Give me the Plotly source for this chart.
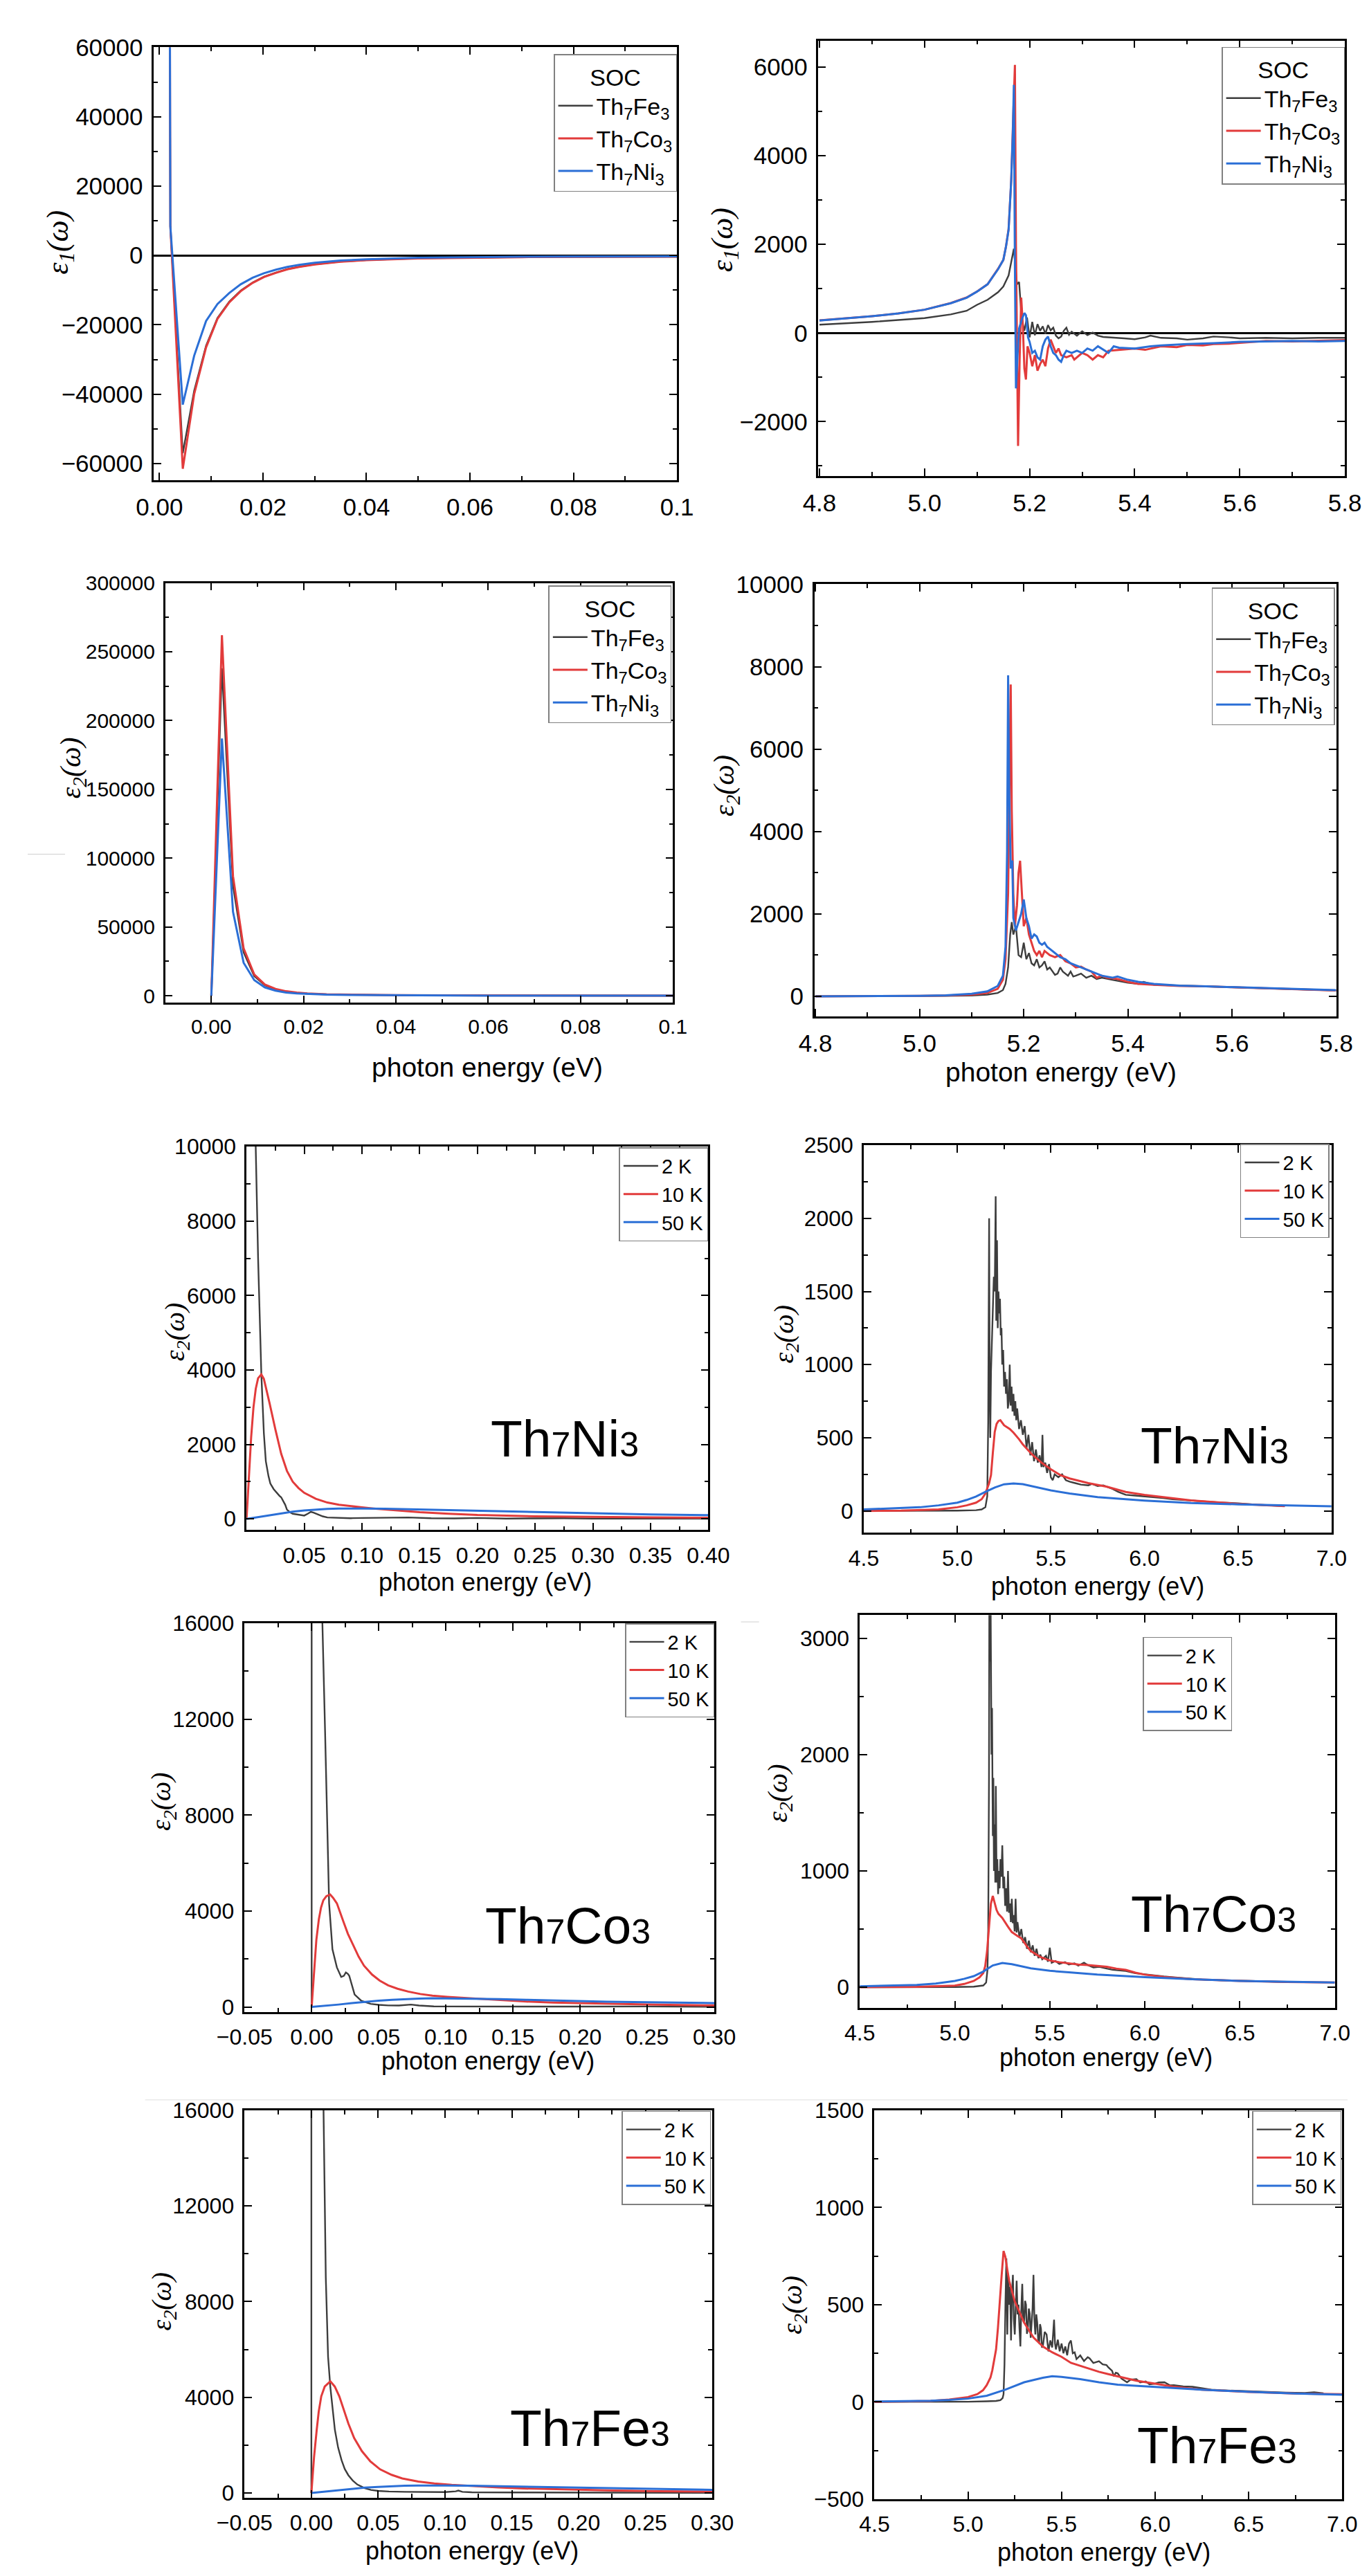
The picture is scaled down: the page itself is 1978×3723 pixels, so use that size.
import plotly.graph_objects as go

W, H = 1978, 3723
GRAY, RED, BLUE = "#3d3d3d", "#e23b3b", "#2b6fd6"
SANS = "Liberation Sans, Arial, sans-serif"
SERIF = "Liberation Serif, Times New Roman, serif"

# ---------------- data (x, y) ----------------
# Panel A : eps1, low energy, SOC
a_fe = [(0.0018, 200000), (0.0021, 8400), (0.0045, -57000), (0.0067, -39000), (0.0090, -26000),
        (0.0112, -18000), (0.0135, -13300), (0.0157, -10100), (0.0180, -7800), (0.0202, -6100),
        (0.0225, -4900), (0.0247, -3950), (0.0270, -3250), (0.030, -2550), (0.035, -1780),
        (0.040, -1330), (0.050, -830), (0.060, -590), (0.070, -470), (0.080, -410), (0.090, -380), (0.100, -360)]
a_co = [(0.0018, 200000), (0.0021, 8400), (0.0045, -61500), (0.0067, -40000), (0.0090, -26500),
        (0.0112, -18300), (0.0135, -13500), (0.0157, -10300), (0.0180, -7900), (0.0202, -6200),
        (0.0225, -5000), (0.0247, -4000), (0.0270, -3300), (0.030, -2600), (0.035, -1800),
        (0.040, -1350), (0.050, -850), (0.060, -600), (0.070, -480), (0.080, -420), (0.090, -390), (0.100, -370)]
a_ni = [(0.0018, 200000), (0.0021, 8400), (0.0045, -43000), (0.0067, -28900), (0.0090, -18900),
        (0.0112, -14000), (0.0135, -10800), (0.0157, -8300), (0.0180, -6400), (0.0202, -5100),
        (0.0225, -4100), (0.0247, -3300), (0.0270, -2700), (0.030, -2100), (0.035, -1450),
        (0.040, -1100), (0.050, -650), (0.060, -450), (0.070, -350), (0.080, -300), (0.090, -270), (0.100, -250)]

# Panel B : eps1, high energy, SOC
b_fe = [(4.80, 187), (4.90, 250), (5.00, 337), (5.05, 420), (5.08, 500), (5.10, 637), (5.12, 750),
        (5.14, 920), (5.15, 1050), (5.16, 1300), (5.165, 1600), (5.170, 1900), (5.173, 1500), (5.176, 1100),
        (5.180, 1150), (5.185, 300), (5.190, 50), (5.195, 350), (5.200, -100), (5.205, 250), (5.210, -50),
        (5.215, 200), (5.220, 50), (5.225, 150), (5.230, -20), (5.235, 180), (5.240, 60), (5.245, 120),
        (5.250, -60), (5.255, -120), (5.260, -80), (5.265, 50), (5.270, 120), (5.275, -40), (5.280, 30),
        (5.290, -60), (5.300, 40), (5.310, -50), (5.320, 10), (5.330, -60), (5.340, -90), (5.360, -100),
        (5.380, -120), (5.400, -140), (5.420, -100), (5.430, -60), (5.450, -110), (5.480, -120),
        (5.500, -150), (5.530, -120), (5.550, -80), (5.580, -100), (5.600, -120), (5.650, -110),
        (5.700, -120), (5.750, -110), (5.800, -110)]
b_co = [(4.80, 285), (4.85, 330), (4.90, 380), (4.95, 440), (5.00, 525), (5.05, 675), (5.08, 800),
        (5.10, 937), (5.12, 1100), (5.13, 1275), (5.14, 1450), (5.15, 1650), (5.155, 1950), (5.16, 2350),
        (5.165, 3450), (5.168, 4600), (5.172, 6050), (5.174, 2000), (5.176, -1000), (5.178, -2550),
        (5.181, -600), (5.184, 800), (5.187, 200), (5.190, -800), (5.193, -1050), (5.196, -300),
        (5.200, -450), (5.205, -750), (5.210, -500), (5.215, -850), (5.220, -700), (5.225, -600),
        (5.230, -750), (5.235, -350), (5.240, -150), (5.245, -300), (5.250, -450), (5.255, -350),
        (5.260, -500), (5.270, -550), (5.280, -500), (5.285, -600), (5.290, -550), (5.300, -450),
        (5.310, -500), (5.320, -600), (5.330, -500), (5.340, -550), (5.350, -400), (5.370, -380),
        (5.400, -350), (5.420, -380), (5.450, -300), (5.480, -320), (5.500, -270), (5.530, -280),
        (5.550, -250), (5.580, -240), (5.600, -220), (5.630, -200), (5.650, -180), (5.700, -190),
        (5.750, -170), (5.800, -160)]
b_ni = [(4.80, 280), (4.85, 325), (4.90, 378), (4.95, 440), (5.00, 525), (5.05, 672), (5.08, 795),
        (5.10, 935), (5.12, 1100), (5.13, 1270), (5.14, 1440), (5.15, 1650), (5.155, 1950), (5.16, 2330),
        (5.165, 3450), (5.168, 4500), (5.170, 5600), (5.172, 1500), (5.174, -1250), (5.177, -500),
        (5.180, 100), (5.185, 300), (5.190, 450), (5.193, 400), (5.197, -100), (5.200, -200),
        (5.205, -450), (5.210, -400), (5.215, -550), (5.220, -600), (5.225, -300), (5.230, -150),
        (5.235, -80), (5.240, -300), (5.245, -450), (5.250, -500), (5.255, -600), (5.260, -650),
        (5.265, -500), (5.270, -400), (5.280, -450), (5.290, -400), (5.300, -450), (5.310, -350),
        (5.320, -400), (5.330, -300), (5.340, -380), (5.350, -450), (5.360, -300), (5.370, -330),
        (5.400, -350), (5.430, -300), (5.450, -280), (5.480, -260), (5.500, -250), (5.550, -230),
        (5.600, -200), (5.650, -190), (5.700, -180), (5.750, -190), (5.800, -180)]

# Panel C : eps2, low energy, SOC
c_fe = [(0.0, 0), (0.0023, 238000), (0.0047, 80000), (0.0070, 31500), (0.0093, 14300), (0.0116, 7600),
        (0.0139, 4600), (0.0162, 3000), (0.0185, 2100), (0.0208, 1550), (0.025, 1000), (0.030, 680),
        (0.040, 380), (0.050, 250), (0.060, 170), (0.080, 100), (0.100, 65)]
c_co = [(0.0, 0), (0.0023, 262000), (0.0047, 87000), (0.0070, 34500), (0.0093, 15500), (0.0116, 8200),
        (0.0139, 5000), (0.0162, 3300), (0.0185, 2300), (0.0208, 1700), (0.025, 1100), (0.030, 750),
        (0.040, 420), (0.050, 270), (0.060, 190), (0.080, 110), (0.100, 70)]
c_ni = [(0.0, 0), (0.0023, 187000), (0.0047, 61000), (0.0070, 24000), (0.0093, 11400), (0.0116, 6100),
        (0.0139, 3700), (0.0162, 2400), (0.0185, 1700), (0.0208, 1250), (0.025, 800), (0.030, 550),
        (0.040, 310), (0.050, 200), (0.060, 140), (0.080, 80), (0.100, 50)]

# Panel D : eps2, high energy, SOC
d_fe = [(4.80, 0), (4.90, 0), (5.00, 5), (5.05, 10), (5.10, 20), (5.13, 40), (5.15, 80), (5.16, 150),
        (5.165, 300), (5.170, 700), (5.174, 1500), (5.177, 1800), (5.180, 1500), (5.185, 1700),
        (5.190, 1000), (5.195, 950), (5.200, 1300), (5.205, 900), (5.210, 1050), (5.215, 800),
        (5.220, 750), (5.225, 900), (5.230, 700), (5.235, 750), (5.240, 850), (5.245, 650), (5.250, 700),
        (5.255, 600), (5.260, 520), (5.265, 550), (5.270, 700), (5.275, 600), (5.280, 550), (5.285, 500),
        (5.290, 600), (5.295, 480), (5.300, 500), (5.310, 550), (5.320, 450), (5.330, 500), (5.340, 420),
        (5.350, 450), (5.370, 400), (5.400, 330), (5.420, 300), (5.430, 350), (5.450, 280), (5.500, 260),
        (5.550, 240), (5.600, 220), (5.650, 200), (5.700, 180), (5.750, 160), (5.800, 140)]
d_co = [(4.80, 0), (4.90, 0), (5.00, 10), (5.05, 20), (5.10, 40), (5.13, 80), (5.15, 180), (5.16, 400),
        (5.165, 900), (5.170, 2500), (5.173, 6000), (5.175, 7570), (5.177, 4500), (5.180, 2500),
        (5.183, 1700), (5.187, 2200), (5.190, 3000), (5.193, 3290), (5.196, 2600), (5.200, 1700),
        (5.205, 1900), (5.210, 1500), (5.215, 1300), (5.220, 1100), (5.225, 1000), (5.230, 1100),
        (5.235, 950), (5.240, 1100), (5.245, 1050), (5.250, 1000), (5.260, 950), (5.270, 1000),
        (5.280, 850), (5.290, 800), (5.300, 700), (5.310, 720), (5.320, 650), (5.330, 600), (5.340, 450),
        (5.350, 500), (5.360, 450), (5.380, 420), (5.400, 350), (5.420, 300), (5.450, 280), (5.480, 260),
        (5.500, 250), (5.550, 240), (5.600, 220), (5.650, 200), (5.700, 180), (5.750, 160), (5.800, 140)]
d_ni = [(4.80, 0), (4.90, 0), (5.00, 10), (5.05, 25), (5.10, 60), (5.13, 120), (5.15, 250), (5.16, 500),
        (5.165, 1200), (5.168, 3500), (5.170, 7790), (5.172, 5000), (5.175, 3100), (5.178, 3300),
        (5.180, 1900), (5.185, 1600), (5.190, 1800), (5.195, 2000), (5.200, 2350), (5.205, 1900),
        (5.210, 1700), (5.215, 1400), (5.220, 1500), (5.225, 1450), (5.230, 1300), (5.235, 1250),
        (5.240, 1300), (5.245, 1200), (5.250, 1150), (5.260, 1050), (5.270, 950), (5.280, 900),
        (5.290, 800), (5.300, 750), (5.310, 700), (5.320, 650), (5.330, 600), (5.350, 500), (5.370, 450),
        (5.380, 480), (5.400, 400), (5.420, 350), (5.450, 300), (5.480, 280), (5.500, 260), (5.550, 240),
        (5.600, 220), (5.650, 200), (5.700, 180), (5.750, 165), (5.800, 150)]

# Panel E : Th7Ni3, eps2, low energy
e_2k = [(0.005, 30000), (0.0078, 10200), (0.0100, 7000), (0.0128, 3900), (0.0150, 2300), (0.0167, 1550),
        (0.0190, 1150), (0.0206, 950), (0.0235, 800), (0.0260, 700), (0.0285, 620), (0.0300, 580),
        (0.0320, 480), (0.0335, 380), (0.0350, 250), (0.0380, 170), (0.0400, 140), (0.0450, 120),
        (0.0480, 95), (0.0500, 90), (0.0530, 140), (0.0557, 190), (0.0580, 170), (0.0620, 120),
        (0.0660, 70), (0.0700, 40), (0.0800, 25), (0.0900, 20), (0.1000, 25), (0.1200, 35), (0.1400, 40),
        (0.1600, 20), (0.1800, 15), (0.2000, 25), (0.2250, 10), (0.2500, 15), (0.2750, 20), (0.3000, 10),
        (0.3500, 10), (0.4000, 10)]
e_10k = [(0.0, 0), (0.001, 600), (0.002, 1050), (0.004, 2200), (0.006, 3000), (0.008, 3500), (0.010, 3780),
         (0.0128, 3880), (0.015, 3760), (0.0175, 3450), (0.020, 3100), (0.025, 2400), (0.030, 1750),
         (0.035, 1290), (0.040, 1000), (0.045, 830), (0.050, 700), (0.060, 540), (0.070, 440),
         (0.080, 380), (0.090, 340), (0.100, 310), (0.110, 280), (0.130, 230), (0.150, 180), (0.175, 140),
         (0.200, 105), (0.250, 70), (0.300, 50), (0.350, 40), (0.400, 32)]
e_50k = [(0.0, 0), (0.01, 50), (0.02, 105), (0.03, 155), (0.04, 195), (0.05, 228), (0.06, 252),
         (0.07, 268), (0.08, 278), (0.09, 282), (0.10, 280), (0.12, 272), (0.15, 252), (0.20, 212),
         (0.25, 178), (0.30, 148), (0.35, 122), (0.40, 102)]

# Panel F : Th7Ni3, eps2, high energy
f_2k = [(4.50, 0), (4.80, 0), (5.00, 2), (5.10, 5), (5.13, 10), (5.15, 25), (5.16, 100), (5.165, 600),
        (5.170, 2000), (5.173, 800), (5.176, 500), (5.180, 950), (5.185, 1150), (5.190, 1350),
        (5.195, 1600), (5.200, 1500), (5.205, 2150), (5.208, 1300), (5.212, 1850), (5.216, 1250),
        (5.220, 1500), (5.224, 1350), (5.228, 1450), (5.232, 1200), (5.236, 1250), (5.240, 1000),
        (5.245, 1100), (5.250, 850), (5.255, 950), (5.260, 800), (5.265, 900), (5.270, 700), (5.275, 750),
        (5.280, 1000), (5.285, 720), (5.290, 850), (5.295, 680), (5.300, 800), (5.305, 650), (5.310, 750),
        (5.315, 620), (5.320, 700), (5.330, 560), (5.340, 620), (5.350, 520), (5.360, 580), (5.370, 430),
        (5.380, 520), (5.390, 380), (5.400, 470), (5.410, 340), (5.420, 420), (5.430, 330), (5.440, 380),
        (5.450, 300), (5.455, 520), (5.460, 300), (5.470, 330), (5.480, 260), (5.490, 320), (5.500, 230),
        (5.510, 210), (5.520, 250), (5.540, 230), (5.560, 250), (5.580, 210), (5.600, 200), (5.630, 190),
        (5.660, 180), (5.700, 175), (5.720, 185), (5.750, 170), (5.780, 175), (5.800, 165), (5.830, 150),
        (5.860, 130), (5.900, 110), (5.950, 105), (6.000, 100), (6.050, 95), (6.100, 88), (6.150, 80),
        (6.200, 75), (6.250, 72), (6.300, 68), (6.400, 58), (6.500, 52), (6.600, 42), (6.700, 36), (6.750, 33)]
f_10k = [(4.50, 0), (4.70, 2), (4.90, 10), (5.00, 25), (5.05, 38), (5.10, 56), (5.13, 80), (5.15, 119),
         (5.17, 190), (5.18, 245), (5.19, 400), (5.20, 540), (5.21, 595), (5.22, 615), (5.23, 620),
         (5.24, 605), (5.25, 585), (5.28, 560), (5.30, 535), (5.33, 490), (5.35, 455), (5.40, 385),
         (5.45, 330), (5.50, 285), (5.55, 245), (5.60, 222), (5.70, 190), (5.80, 165), (5.90, 130),
         (6.00, 110), (6.10, 95), (6.25, 72), (6.50, 48), (6.75, 33)]
f_50k = [(4.50, 10), (4.70, 18), (4.80, 25), (4.90, 38), (5.00, 56), (5.05, 75), (5.10, 98), (5.15, 130),
         (5.20, 160), (5.25, 182), (5.30, 188), (5.35, 183), (5.40, 168), (5.50, 140), (5.60, 119),
         (5.75, 94), (6.00, 71), (6.25, 54), (6.50, 45), (6.75, 37), (7.00, 31)]

# Panel G : Th7Co3, eps2, low energy
g_2k = [(0.0, 0), (0.0, 60000), (0.004, 40000), (0.008, 16000), (0.0100, 11500), (0.0114, 8250),
        (0.0130, 4320), (0.0155, 2400), (0.0188, 1650), (0.0220, 1250), (0.0240, 1300), (0.0255, 1440),
        (0.0270, 1380), (0.0280, 1300), (0.0300, 900), (0.0320, 520), (0.0370, 260), (0.0440, 130),
        (0.0500, 90), (0.0570, 65), (0.0650, 60), (0.0700, 80), (0.0740, 100), (0.0800, 60), (0.0910, 25),
        (0.1000, 20), (0.1200, 15), (0.1500, 20), (0.2000, 15), (0.2500, 20), (0.3000, 10)]
g_10k = [(0.0, 0), (0.002, 1700), (0.0035, 2800), (0.0054, 3670), (0.0070, 4150), (0.0087, 4450),
         (0.0110, 4620), (0.0138, 4690), (0.0160, 4550), (0.0188, 4320), (0.0210, 3950), (0.0238, 3535),
         (0.0270, 3050), (0.0305, 2620), (0.0350, 2100), (0.0390, 1720), (0.0450, 1350), (0.0507, 1100),
         (0.0570, 900), (0.0640, 760), (0.0720, 640), (0.0810, 540), (0.0900, 470), (0.1010, 420),
         (0.1120, 380), (0.1240, 340), (0.1400, 280), (0.1580, 230), (0.1800, 185), (0.2000, 155),
         (0.2250, 120), (0.2500, 100), (0.2750, 80), (0.3000, 65)]
g_50k = [(0.0, 0), (0.01, 45), (0.02, 100), (0.03, 160), (0.04, 215), (0.05, 260), (0.06, 300),
         (0.07, 330), (0.08, 350), (0.09, 360), (0.10, 358), (0.12, 345), (0.14, 330), (0.16, 300),
         (0.19, 255), (0.22, 220), (0.25, 195), (0.30, 160)]

# Panel H : Th7Co3, eps2, high energy
h_2k = [(4.50, 0), (4.80, 0), (5.00, 2), (5.10, 5), (5.15, 15), (5.165, 40), (5.172, 150), (5.176, 500),
        (5.180, 1800), (5.182, 3600), (5.185, 2800), (5.188, 3500), (5.190, 2800), (5.193, 2000),
        (5.196, 2400), (5.200, 1300), (5.203, 1800), (5.206, 1000), (5.210, 1400), (5.213, 900),
        (5.216, 1730), (5.220, 900), (5.224, 1100), (5.228, 800), (5.232, 1000), (5.236, 850),
        (5.240, 1100), (5.245, 950), (5.250, 1220), (5.255, 850), (5.260, 950), (5.265, 700), (5.270, 850),
        (5.275, 650), (5.280, 1000), (5.285, 640), (5.290, 720), (5.295, 560), (5.300, 760), (5.305, 550),
        (5.310, 620), (5.315, 480), (5.320, 760), (5.325, 470), (5.330, 560), (5.340, 430), (5.350, 500),
        (5.360, 380), (5.370, 430), (5.380, 330), (5.390, 400), (5.400, 300), (5.410, 360), (5.420, 270),
        (5.430, 330), (5.440, 250), (5.450, 280), (5.460, 240), (5.480, 270), (5.490, 220), (5.500, 340),
        (5.510, 210), (5.530, 225), (5.550, 200), (5.580, 215), (5.600, 195), (5.630, 205), (5.650, 185),
        (5.680, 210), (5.700, 190), (5.730, 170), (5.760, 175), (5.800, 160), (5.830, 150), (5.860, 145),
        (5.900, 140), (5.950, 120), (6.000, 110), (6.050, 100), (6.100, 92), (6.150, 85), (6.200, 78),
        (6.250, 72), (6.300, 66), (6.400, 60), (6.500, 55), (6.600, 50), (6.750, 45)]
h_10k = [(4.50, 0), (4.80, 3), (5.00, 14), (5.05, 28), (5.10, 54), (5.13, 85), (5.15, 122), (5.16, 180),
         (5.17, 311), (5.18, 500), (5.19, 718), (5.20, 785), (5.21, 720), (5.22, 663), (5.23, 630),
         (5.25, 596), (5.28, 520), (5.30, 474), (5.33, 440), (5.35, 420), (5.38, 350), (5.40, 311),
         (5.45, 260), (5.50, 230), (5.55, 215), (5.60, 203), (5.65, 195), (5.70, 190), (5.75, 185),
         (5.80, 176), (5.85, 160), (5.90, 149), (5.95, 125), (6.00, 108), (6.10, 88), (6.25, 68),
         (6.50, 54), (6.75, 45), (7.00, 41)]
h_50k = [(4.50, 8), (4.70, 14), (4.80, 19), (4.90, 32), (5.00, 54), (5.05, 72), (5.10, 95), (5.15, 135),
         (5.20, 187), (5.25, 208), (5.30, 198), (5.40, 162), (5.50, 141), (5.60, 128), (5.75, 108),
         (6.00, 87), (6.25, 68), (6.50, 54), (6.75, 46), (7.00, 41)]

# Panel I : Th7Fe3, eps2, low energy
i_2k = [(0.0, 0), (0.0, 60000), (0.005, 40000), (0.0091, 16000), (0.0108, 9000), (0.0125, 5690),
        (0.0142, 4420), (0.0160, 3400), (0.0176, 2640), (0.0200, 1900), (0.0226, 1370), (0.0250, 1000),
        (0.0277, 740), (0.0310, 520), (0.0344, 355), (0.0400, 200), (0.0446, 127), (0.0500, 90),
        (0.0580, 63), (0.0700, 50), (0.0800, 45), (0.0919, 38), (0.1000, 40), (0.1080, 70), (0.1100, 100),
        (0.1130, 50), (0.1200, 30), (0.1500, 25), (0.2000, 20), (0.2500, 15), (0.3000, 10)]
i_10k = [(0.0, 0), (0.002, 1500), (0.004, 2640), (0.0055, 3400), (0.0074, 4040), (0.0100, 4450),
         (0.0142, 4670), (0.0175, 4450), (0.0209, 4040), (0.0240, 3500), (0.0277, 2900), (0.0320, 2300),
         (0.0378, 1750), (0.0440, 1330), (0.0514, 990), (0.0600, 760), (0.0680, 610), (0.0800, 480),
         (0.0920, 400), (0.1050, 340), (0.1190, 290), (0.1400, 230), (0.1590, 190), (0.1900, 140),
         (0.2270, 100), (0.2600, 75), (0.3000, 55)]
i_50k = [(0.0, 0), (0.01, 55), (0.02, 120), (0.03, 180), (0.04, 225), (0.05, 258), (0.06, 285),
         (0.07, 303), (0.08, 314), (0.09, 318), (0.10, 316), (0.12, 305), (0.15, 278), (0.20, 220),
         (0.25, 170), (0.30, 130)]

# Panel J : Th7Fe3, eps2, high energy
j_2k = [(4.50, 0), (4.80, 0), (5.00, 1), (5.10, 3), (5.15, 5), (5.173, 9), (5.185, 20), (5.190, 40),
        (5.195, 193), (5.200, 500), (5.205, 738), (5.210, 347), (5.215, 653), (5.220, 500), (5.225, 592),
        (5.230, 316), (5.235, 560), (5.240, 653), (5.245, 423), (5.250, 347), (5.255, 520), (5.260, 623),
        (5.265, 450), (5.270, 500), (5.275, 380), (5.280, 285), (5.285, 480), (5.290, 607), (5.295, 420),
        (5.300, 408), (5.305, 520), (5.310, 500), (5.315, 350), (5.320, 377), (5.325, 480), (5.330, 454),
        (5.335, 330), (5.340, 400), (5.345, 480), (5.350, 653), (5.355, 420), (5.360, 347), (5.365, 450),
        (5.370, 408), (5.375, 320), (5.380, 300), (5.385, 400), (5.390, 377), (5.395, 280), (5.400, 285),
        (5.410, 360), (5.420, 347), (5.430, 260), (5.440, 316), (5.450, 280), (5.460, 423), (5.465, 300),
        (5.470, 270), (5.480, 320), (5.490, 260), (5.500, 300), (5.510, 250), (5.520, 285), (5.530, 240),
        (5.540, 300), (5.550, 316), (5.560, 250), (5.570, 255), (5.580, 220), (5.600, 239), (5.620, 210),
        (5.640, 230), (5.650, 224), (5.670, 200), (5.700, 209), (5.720, 193), (5.740, 190), (5.750, 178),
        (5.770, 160), (5.780, 132), (5.790, 150), (5.800, 147), (5.820, 120), (5.850, 101), (5.870, 115),
        (5.900, 117), (5.920, 100), (5.950, 105), (5.970, 90), (6.000, 94), (6.020, 100), (6.050, 101),
        (6.080, 85), (6.100, 86), (6.150, 80), (6.200, 78), (6.250, 70), (6.300, 63), (6.350, 60),
        (6.400, 58), (6.500, 55), (6.600, 50), (6.700, 48), (6.800, 46), (6.850, 50), (6.900, 44)]
j_10k = [(4.50, 0), (4.80, 5), (4.90, 12), (5.00, 25), (5.05, 40), (5.08, 60), (5.10, 86), (5.12, 125),
         (5.13, 163), (5.14, 210), (5.15, 270), (5.16, 380), (5.17, 500), (5.18, 653), (5.19, 776),
         (5.20, 745), (5.21, 680), (5.22, 623), (5.25, 516), (5.28, 450), (5.30, 408), (5.35, 331),
         (5.40, 285), (5.45, 255), (5.50, 232), (5.55, 201), (5.60, 186), (5.65, 170), (5.70, 155),
         (5.75, 143), (5.80, 132), (5.85, 120), (5.90, 109), (6.00, 94), (6.10, 78), (6.25, 63),
         (6.50, 51), (6.75, 43), (7.00, 40)]
j_50k = [(4.50, 2), (4.80, 6), (4.90, 10), (5.00, 17), (5.10, 32), (5.20, 63), (5.30, 101), (5.40, 124),
         (5.45, 132), (5.50, 129), (5.60, 117), (5.70, 101), (5.80, 89), (6.00, 78), (6.25, 63),
         (6.50, 52), (6.75, 43), (7.00, 37)]

SOC_NAMES = ["Th<sub>7</sub>Fe<sub>3</sub>", "Th<sub>7</sub>Co<sub>3</sub>", "Th<sub>7</sub>Ni<sub>3</sub>"]
TEMP_NAMES = ["2 K", "10 K", "50 K"]
LOW_TICKS = [0.0, 0.02, 0.04, 0.06, 0.08, 0.1]
LOW_TEXT = ["0.00", "0.02", "0.04", "0.06", "0.08", "0.1"]
NI_TICKS = [0.05, 0.10, 0.15, 0.20, 0.25, 0.30, 0.35, 0.40]

EPS1 = "<i>ε<sub>1</sub>(ω)</i>"
EPS2 = "<i>ε<sub>2</sub>(ω)</i>"
XT = "photon energy (eV)"
SM = "font-size:50px"
LBL_NI = f"Th<span style='{SM}'>7</span>Ni<span style='{SM}'>3</span>"
LBL_CO = f"Th<span style='{SM}'>7</span>Co<span style='{SM}'>3</span>"
LBL_FE = f"Th<span style='{SM}'>7</span>Fe<span style='{SM}'>3</span>"

# ---------------- layout of panels (pixel boxes) ----------------
panels = [
    dict(series=[a_fe, a_co, a_ni], names=SOC_NAMES, box=(189, 973, 49, 681),
         xr=[-0.0011, 0.1], yr=[-64800, 60000], xtv=(LOW_TICKS, LOW_TEXT), xminor=0.01,
         ydt=20000, yminor=10000, zero=True, tf=35, leg=(973, 59, 34, "SOC"),
         yt=(EPS1, 48, 334, 44), xt=None, lab=None),
    dict(series=[b_fe, b_co, b_ni], names=SOC_NAMES, box=(1185, 1974, 39, 675),
         xr=[4.798, 5.8], yr=[-3230, 6600], xdt=0.2, xfmt=".1f", xminor=0.1,
         ydt=2000, yminor=1000, zero=True, tf=35, leg=(1974, 48, 34, "SOC"),
         yt=(EPS1, 1044, 330, 44), xt=None, lab=None),
    dict(series=[c_fe, c_co, c_ni], names=SOC_NAMES, box=(206, 967, 831, 1444),
         xr=[-0.01, 0.1], yr=[-5080, 300000], xtv=(LOW_TICKS, LOW_TEXT), xminor=0.01,
         ydt=50000, yminor=25000, zero=False, tf=30, leg=(965, 835, 34, "SOC"),
         yt=(EPS2, 67, 1101, 42), xt=(689, 1538, 39), lab=None),
    dict(series=[d_fe, d_co, d_ni], names=SOC_NAMES, box=(1179, 1961, 833, 1464),
         xr=[4.798, 5.8], yr=[-490, 10000], xdt=0.2, xfmt=".1f", xminor=0.1,
         ydt=2000, yminor=1000, zero=False, tf=35, leg=(1959, 838, 34, "SOC"),
         yt=(EPS2, 1047, 1127, 42), xt=(1549, 1545, 39), lab=None),
    dict(series=[e_2k, e_10k, e_50k], names=TEMP_NAMES, box=(328, 1020, 1654, 2214),
         xr=[0.0, 0.4], yr=[-300, 10000], xtv=(NI_TICKS, [f"{v:.2f}" for v in NI_TICKS]), xminor=0.025,
         ydt=2000, yminor=1000, zero=False, tf=32, leg=(1020, 1655, 29, None),
         yt=(EPS2, 223, 1924, 40), xt=(686, 2290, 36), lab=(LBL_NI, 805, 2080)),
    dict(series=[f_2k, f_10k, f_50k], names=TEMP_NAMES, box=(1253, 1954, 1652, 2218),
         xr=[4.5, 7.0], yr=[-150, 2500], xdt=0.5, xfmt=".1f", xminor=0.25,
         ydt=500, yminor=250, zero=False, tf=32, leg=(1951, 1650, 29, None),
         yt=(EPS2, 1136, 1928, 40), xt=(1604, 2296, 36), lab=(LBL_NI, 1779, 2090)),
    dict(series=[g_2k, g_10k, g_50k], names=TEMP_NAMES, box=(325, 1029, 2350, 2918),
         xr=[-0.05, 0.3], yr=[-220, 16000], xdt=0.05, xfmt=".2f", xminor=0.025,
         ydt=4000, yminor=2000, zero=False, tf=32, leg=(1029, 2350, 29, None),
         yt=(EPS2, 203, 2610, 40), xt=(690, 2989, 36), lab=(LBL_CO, 810, 2791)),
    dict(series=[h_2k, h_10k, h_50k], names=TEMP_NAMES, box=(1247, 1959, 2338, 2912),
         xr=[4.5, 7.0], yr=[-180, 3200], xdt=0.5, xfmt=".1f", xminor=0.25,
         ydt=1000, yminor=500, zero=False, tf=32, leg=(1805, 2370, 29, None),
         yt=(EPS2, 1127, 2598, 40), xt=(1616, 2984, 36), lab=(LBL_CO, 1777, 2774)),
    dict(series=[i_2k, i_10k, i_50k], names=TEMP_NAMES, box=(325, 1026, 3061, 3627),
         xr=[-0.05, 0.3], yr=[-200, 16000], xdt=0.05, xfmt=".2f", xminor=0.025,
         ydt=4000, yminor=2000, zero=False, tf=32, leg=(1024, 3062, 29, None),
         yt=(EPS2, 203, 3340, 40), xt=(666, 3704, 36), lab=(LBL_FE, 843, 3525)),
    dict(series=[j_2k, j_10k, j_50k], names=TEMP_NAMES, box=(1269, 1970, 3061, 3629),
         xr=[4.5, 7.0], yr=[-500, 1500], xdt=0.5, xfmt=".1f", xminor=0.25,
         ydt=500, yminor=250, zero=False, tf=32, leg=(1969, 3062, 29, None),
         yt=(EPS2, 1148, 3345, 40), xt=(1613, 3706, 36), lab=(LBL_FE, 1782, 3550)),
]

COLORS = [GRAY, RED, BLUE]


def px(x):
    return x / W


def py(y):
    return 1 - y / H


fig = go.Figure()
layout = dict(width=W, height=H, autosize=False, margin=dict(l=0, r=0, t=0, b=0),
              paper_bgcolor="white", plot_bgcolor="white", showlegend=True)
annotations = []

for n, p in enumerate(panels, start=1):
    sfx = "" if n == 1 else str(n)
    xa, ya, lg = "xaxis" + sfx, "yaxis" + sfx, "legend" + sfx
    for s, name, col in zip(p["series"], p["names"], COLORS):
        xs, ys = zip(*s)
        fig.add_trace(go.Scatter(x=list(xs), y=list(ys), mode="lines", name=name,
                                 line=dict(color=col, width=3 if col != GRAY else 2.4),
                                 xaxis="x" + sfx, yaxis="y" + sfx, legend=lg, showlegend=True))
    x0, x1, y0, y1 = p["box"]
    common = dict(showline=True, linecolor="black", linewidth=2.5, mirror="allticks",
                  ticks="inside", ticklen=11, tickwidth=2, tickcolor="black",
                  showgrid=False, tickfont=dict(family=SANS, size=p["tf"], color="black"),
                  ticklabelstandoff=6)
    xax = dict(common, domain=[px(x0), px(x1)], range=p["xr"], anchor="y" + sfx, zeroline=False,
               minor=dict(ticks="inside", ticklen=6, tickwidth=1.5, tickcolor="black",
                          dtick=p["xminor"], tick0=0, showgrid=False))
    if "xtv" in p:
        xax.update(tickmode="array", tickvals=p["xtv"][0], ticktext=p["xtv"][1])
    else:
        xax.update(tickmode="linear", dtick=p["xdt"], tick0=0, tickformat=p["xfmt"])
    yax = dict(common, domain=[py(y1), py(y0)], range=p["yr"], anchor="x" + sfx,
               tickmode="linear", dtick=p["ydt"], tick0=0, tickformat="d",
               zeroline=p["zero"], zerolinecolor="black", zerolinewidth=2.5,
               minor=dict(ticks="inside", ticklen=6, tickwidth=1.5, tickcolor="black",
                          dtick=p["yminor"], tick0=0, showgrid=False))
    layout[xa] = xax
    layout[ya] = yax

    lx, ly, lfs, ltitle = p["leg"]
    leg = dict(x=px(lx), xanchor="right", y=py(ly), yanchor="top", bgcolor="white",
               bordercolor="#808080", borderwidth=1.5,
               font=dict(family=SANS, size=lfs, color="black"), itemwidth=50, tracegroupgap=0)
    if ltitle:
        leg["title"] = dict(text=ltitle, side="top center", font=dict(family=SANS, size=lfs, color="black"))
    layout[lg] = leg

    t, tx, ty, tfs = p["yt"]
    annotations.append(dict(text=t, x=px(tx), y=py(ty), xref="paper", yref="paper", showarrow=False,
                            textangle=-90, xanchor="center", yanchor="middle",
                            font=dict(family=SERIF, size=tfs, color="black")))
    if p["xt"]:
        tx, ty, tfs = p["xt"]
        annotations.append(dict(text=XT, x=px(tx), y=py(ty), xref="paper", yref="paper", showarrow=False,
                                xanchor="center", yanchor="middle",
                                font=dict(family=SANS, size=tfs, color="black")))
    if p["lab"]:
        t, tx, ty = p["lab"]
        annotations.append(dict(text=t, x=px(tx), y=py(ty), xref="paper", yref="paper", showarrow=False,
                                xanchor="center", yanchor="middle",
                                font=dict(family=SANS, size=75, color="black")))

shapes = [
    dict(type="line", xref="paper", yref="paper", x0=px(0), x1=px(56), y0=py(1227), y1=py(1227),
         line=dict(color="#cfcfcf", width=1)),
    dict(type="line", xref="paper", yref="paper", x0=px(176), x1=px(1978), y0=py(3046), y1=py(3046),
         line=dict(color="#dedede", width=1)),
    dict(type="line", xref="paper", yref="paper", x0=px(1069), x1=px(1096), y0=py(2348), y1=py(2348),
         line=dict(color="#cfcfcf", width=1)),
]

layout["annotations"] = annotations
layout["shapes"] = shapes
fig.update_layout(**layout)
fig.write_html("out.html")
